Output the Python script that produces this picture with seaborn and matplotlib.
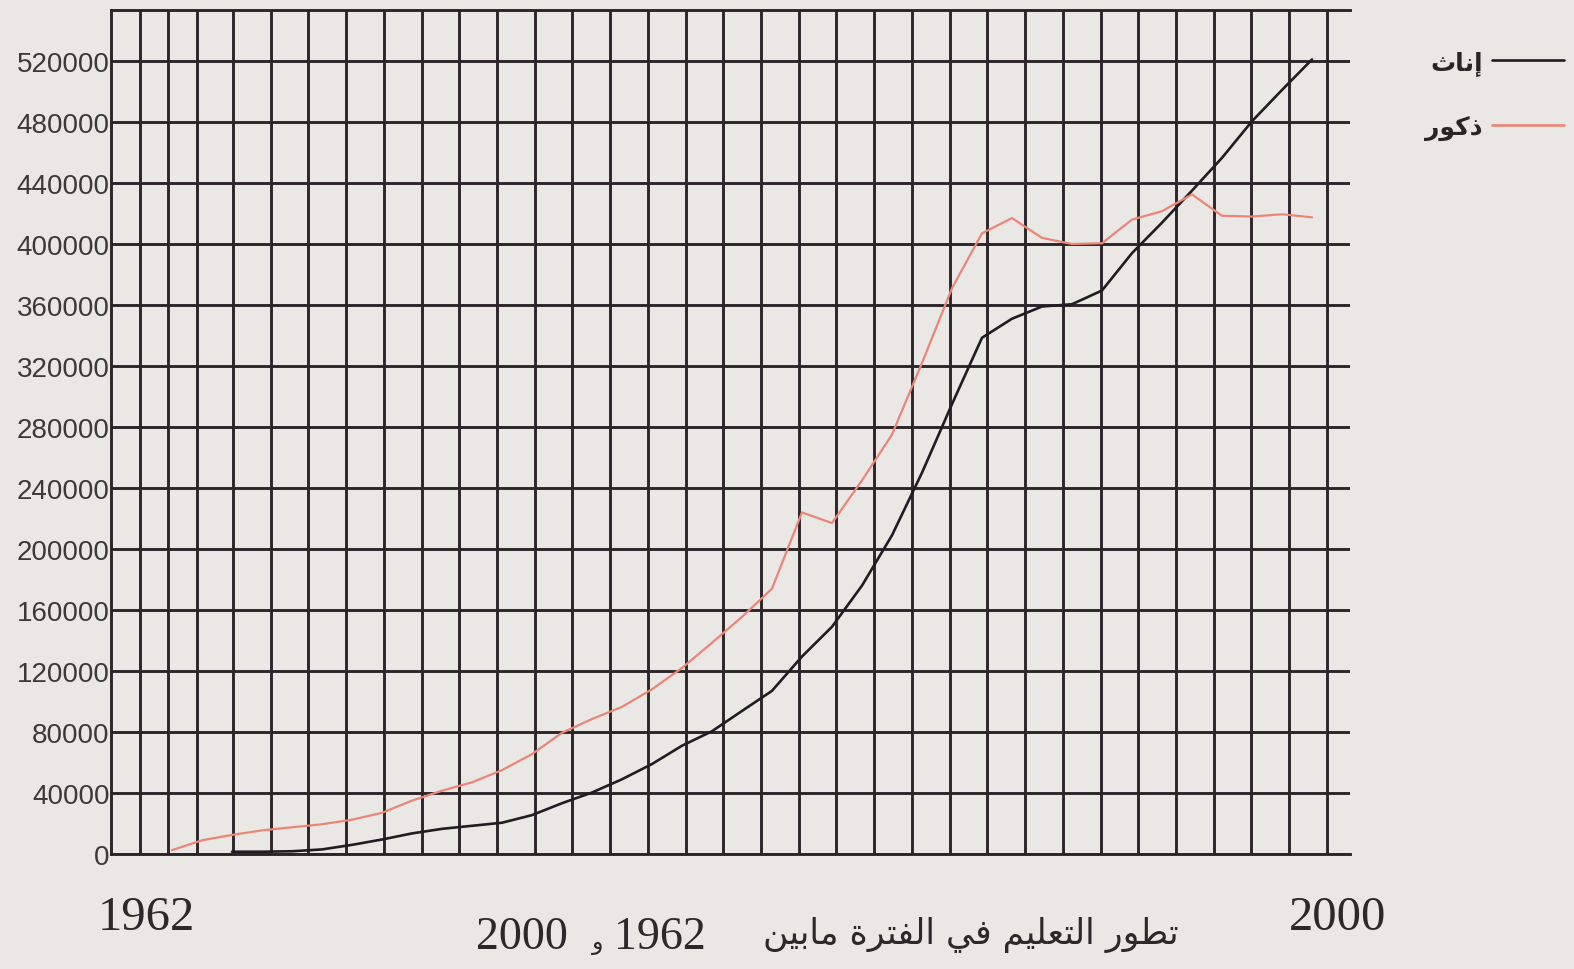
import numpy as np
import pandas as pd
import matplotlib
matplotlib.use("Agg")
import matplotlib.pyplot as plt
from matplotlib.lines import Line2D
import seaborn as sns

# data (pupils enrolled per year)
years = list(range(1962, 2001))
females = [np.nan, np.nan, 1500, 1500, 1800, 3000, 6000, 9500, 13500, 16500,
           18500, 20500, 25500, 33300, 40300, 49000, 59000, 71000, 80500, 93800,
           107000, 129500, 149000, 176000, 209000, 250000, 295000, 338500, 351000, 359000,
           360500, 369500, 394000, 414000, 435000, 456500, 480500, 501000, 521000]
males = [2500, 9000, 12500, 15500, 17500, 19500, 22500, 27000, 35000, 41500,
         47000, 55000, 65500, 79500, 88500, 96500, 108000, 122000, 138500, 155500,
         174000, 224000, 217000, 245000, 275000, 322000, 371000, 407000, 417000, 404000,
         400000, 400500, 416000, 421500, 432500, 418500, 418000, 419500, 417500]
series_names = ["إناث", "ذكور"]
y_ticks = list(range(0, 520001, 40000))
caption = "تطور التعليم في الفترة مابين"
first_year, last_year = "1962", "2000"

# matplotlib has no arabic shaping, so pick presentation forms by hand
FORMS = {
    "ا": ("\uFE8D", "\uFE8E"), "إ": ("\uFE87", "\uFE88"),
    "ب": ("\uFE8F", "\uFE90", "\uFE91", "\uFE92"), "ة": ("\uFE93", "\uFE94"),
    "ت": ("\uFE95", "\uFE96", "\uFE97", "\uFE98"), "ث": ("\uFE99", "\uFE9A", "\uFE9B", "\uFE9C"),
    "ذ": ("\uFEAB", "\uFEAC"), "ر": ("\uFEAD", "\uFEAE"),
    "ط": ("\uFEC1", "\uFEC2", "\uFEC3", "\uFEC4"), "ع": ("\uFEC9", "\uFECA", "\uFECB", "\uFECC"),
    "ف": ("\uFED1", "\uFED2", "\uFED3", "\uFED4"), "ك": ("\uFED9", "\uFEDA", "\uFEDB", "\uFEDC"),
    "ل": ("\uFEDD", "\uFEDE", "\uFEDF", "\uFEE0"), "م": ("\uFEE1", "\uFEE2", "\uFEE3", "\uFEE4"),
    "ن": ("\uFEE5", "\uFEE6", "\uFEE7", "\uFEE8"), "و": ("\uFEED", "\uFEEE"),
    "ي": ("\uFEF1", "\uFEF2", "\uFEF3", "\uFEF4"),
}

def shape(text):
    out = []
    for i, ch in enumerate(text):
        f = FORMS.get(ch)
        if f is None:
            out.append(ch)
            continue
        prev = text[i - 1] if i > 0 else ""
        nxt = text[i + 1] if i + 1 < len(text) else ""
        join_prev = prev in FORMS and len(FORMS[prev]) == 4
        join_next = len(f) == 4 and nxt in FORMS
        if join_prev and join_next:
            out.append(f[3])
        elif join_prev:
            out.append(f[1])
        elif join_next:
            out.append(f[2])
        else:
            out.append(f[0])
    return "".join(reversed(out))

df = pd.DataFrame({
    "year": years * 2,
    "value": females + males,
    "series": [shape(series_names[0])] * len(years) + [shape(series_names[1])] * len(years),
})

paper = "#e9e8e4"
ink = "#2c2529"
sns.set_style("white")
plt.rcParams["font.family"] = ["DejaVu Sans"]

fig = plt.figure(figsize=(15.74, 9.70), dpi=100, facecolor=paper)
ax = fig.add_axes([111 / 1574, 1 - 855 / 970, (1350 - 111) / 1574, (855 - 11) / 970])
ax.set_facecolor(paper)

sns.lineplot(data=df, x="year", y="value", hue="series",
             hue_order=[shape(n) for n in series_names],
             palette=["#1f1d22", "#ec8578"], errorbar=None, ax=ax)
for ln, lw in zip(ax.lines, [1.9, 1.6]):
    ln.set_linewidth(lw)
ax.get_legend().remove()

# grid (the printed sheet has 3 narrow columns then regular ones)
vgrid = np.r_[[1960.93, 1961.87, 1962.83], 1964.03 + 1.2575 * np.arange(30)]
ax.set_xticks(vgrid)
ax.set_xlim(1959.967, 2001.267)
ax.set_ylim(0, 844 / 61 * 40000)
ax.set_yticks(y_ticks)
ax.set_yticklabels([str(v) for v in y_ticks], family="Liberation Sans",
                   fontsize=20, color="#3a3a3a")
ax.tick_params(axis="x", labelbottom=False, length=0)
ax.tick_params(axis="y", length=0, pad=1)
ax.grid(True, color=ink, linewidth=2.1)
ax.set_axisbelow(True)
for side in ["left", "top", "bottom"]:
    ax.spines[side].set_color(ink)
    ax.spines[side].set_linewidth(2.1)
ax.spines["right"].set_visible(False)
ax.set_xlabel("")
ax.set_ylabel("")

handles = [Line2D([], [], color="#1f1d22", lw=1.9), Line2D([], [], color="#ec8578", lw=1.9)]
fig.legend(handles, [shape(n) for n in series_names], loc="upper right",
           bbox_to_anchor=(1564 / 1574, 1 - 51 / 970), frameon=False, markerfirst=False,
           prop={"family": "DejaVu Sans", "weight": "bold", "size": 18},
           handlelength=2.9, handletextpad=0.35, labelspacing=1.6,
           borderpad=0, borderaxespad=0)

text_kw = dict(family="Liberation Serif", ha="center", va="baseline", color="#2a2a2a")
fig.text(146 / 1574, 1 - 930 / 970, first_year, size=35, **text_kw)
fig.text(1338 / 1574, 1 - 930 / 970, last_year, size=35, **text_kw)
# caption: "... 1962 و 2000" laid out right to left
fig.text(522 / 1574, 1 - 949 / 970, last_year, size=33, **text_kw)
fig.text(598 / 1574, 1 - 949 / 970, "و", size=17, family="DejaVu Sans",
         ha="center", va="baseline", color="#2a2a2a")
fig.text(660 / 1574, 1 - 949 / 970, first_year, size=33, **text_kw)
fig.text(971 / 1574, 1 - 944 / 970, shape(caption), family="DejaVu Sans", size=25,
         ha="center", va="baseline", color="#2a2a2a")

fig.savefig("out.png", dpi=100, facecolor=paper)
